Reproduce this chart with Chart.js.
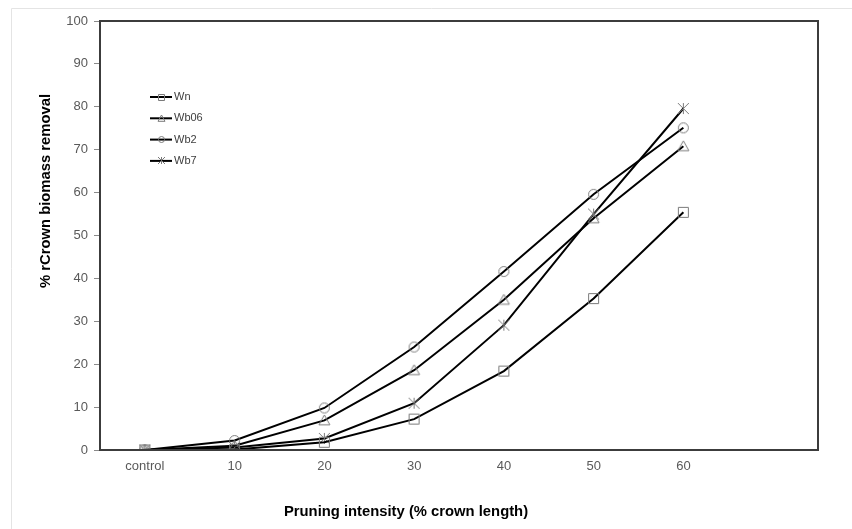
<!DOCTYPE html>
<html>
<head>
<meta charset="utf-8">
<script src="https://cdn.jsdelivr.net/npm/chart.js@4"></script>
<style>
html,body{margin:0;padding:0;background:#fff;}
canvas{display:block;}
</style>
</head>
<body>
<canvas id="c" width="852" height="529"></canvas>
<script>
// ---- data ----
const categories = ['control', '10', '20', '30', '40', '50', '60', ''];
const seriesNames = ['Wn', 'Wb06', 'Wb2', 'Wb7'];
const wn   = [0, 0.1, 1.8, 7.2, 18.4, 35.3, 55.4, null];
const wb06 = [0, 1.0, 6.9, 18.6, 35.0, 54.0, 70.8, null];
const wb2  = [0, 2.2, 9.8, 24.0, 41.6, 59.6, 75.1, null];
const wb7  = [0, 0.6, 2.7, 10.9, 29.1, 55.0, 79.6, null];
const yTicks = [0, 10, 20, 30, 40, 50, 60, 70, 80, 90, 100];
const markerKinds = ['square', 'triangle', 'circle', 'asterisk'];

const xTitle = 'Pruning intensity (% crown length)';
const yTitle = '% rCrown biomass removal';

// ---- marker images ----
function makeMarker(kind, size) {
  const pad = 2;
  const c = document.createElement('canvas');
  c.width = size + pad * 2; c.height = size + pad * 2;
  const g = c.getContext('2d');
  g.strokeStyle = '#7a7a7a';
  g.lineWidth = 1;
  const m = c.width / 2, r = size / 2;
  g.beginPath();
  if (kind === 'square') {
    g.rect(m - r + 0.5, m - r + 0.5, size - 1, size - 1);
  } else if (kind === 'triangle') {
    g.moveTo(m, m - r);
    g.lineTo(m + r, m + r * 0.8);
    g.lineTo(m - r, m + r * 0.8);
    g.closePath();
  } else if (kind === 'circle') {
    g.arc(m, m, r - 0.5, 0, Math.PI * 2);
  } else {
    g.moveTo(m - r, m - r); g.lineTo(m + r, m + r);
    g.moveTo(m + r, m - r); g.lineTo(m - r, m + r);
    g.moveTo(m, m - r); g.lineTo(m, m + r);
  }
  g.stroke();
  return c;
}
const bigMarkers = markerKinds.map(k => makeMarker(k, 11));
const smallMarkers = markerKinds.map(k => makeMarker(k, 7));

const seriesData = [wn, wb06, wb2, wb7];

const datasets = seriesNames.map((name, i) => ({
  label: name,
  data: seriesData[i],
  borderColor: '#000000',
  borderWidth: 2,
  backgroundColor: 'transparent',
  pointStyle: bigMarkers[i],
  pointRadius: 5,
  pointHoverRadius: 5,
  tension: 0,
  spanGaps: false,
}));

// ---- plugins ----
const decor = {
  id: 'decor',
  beforeDraw(chart) {
    const ctx = chart.ctx;
    ctx.save();
    ctx.fillStyle = '#ffffff';
    ctx.fillRect(0, 0, chart.width, chart.height);
    ctx.strokeStyle = '#e4e4e4';
    ctx.lineWidth = 1;
    ctx.beginPath();
    ctx.moveTo(11.5, chart.height); ctx.lineTo(11.5, 8.5); ctx.lineTo(chart.width, 8.5);
    ctx.stroke();
    ctx.restore();
  },
  afterDraw(chart) {
    const ctx = chart.ctx;
    const a = chart.chartArea;
    ctx.save();
    // frame
    ctx.strokeStyle = '#3c3c3c';
    ctx.lineWidth = 2;
    ctx.strokeRect(a.left, a.top, a.right - a.left, a.bottom - a.top);
    // axis titles
    ctx.fillStyle = '#000000';
    ctx.font = 'bold 14.8px "Liberation Sans", Arial, sans-serif';
    ctx.textAlign = 'center';
    ctx.textBaseline = 'middle';
    ctx.fillText(xTitle, 406, 512);
    ctx.translate(46, 191);
    ctx.rotate(-Math.PI / 2);
    ctx.fillText(yTitle, 0, 0);
    ctx.restore();
    // legend
    ctx.save();
    ctx.font = '11px "Liberation Sans", Arial, sans-serif';
    ctx.textAlign = 'left';
    ctx.textBaseline = 'middle';
    chart.data.datasets.forEach((ds, i) => {
      const y = 97 + i * 21.3;
      ctx.strokeStyle = '#000';
      ctx.lineWidth = 2;
      ctx.beginPath();
      ctx.moveTo(150, y); ctx.lineTo(172, y);
      ctx.stroke();
      const img = smallMarkers[i];
      ctx.drawImage(img, Math.round(161 - img.width / 2), Math.round(y - img.height / 2));
      ctx.fillStyle = '#404040';
      ctx.fillText(ds.label, 174, y);
    });
    ctx.restore();
  }
};

new Chart(document.getElementById('c'), {
  type: 'line',
  data: { labels: categories, datasets },
  plugins: [decor],
  options: {
    responsive: false,
    animation: false,
    events: [],
    layout: { padding: { top: 21, right: 34, left: 0, bottom: 0 } },
    plugins: { legend: { display: false }, tooltip: { enabled: false } },
    scales: {
      x: {
        type: 'category',
        offset: true,
        grid: { display: false, drawTicks: false },
        border: { display: false },
        ticks: {
          color: '#595959',
          font: { family: '"Liberation Sans", Arial, sans-serif', size: 13 },
          padding: 9,
          maxRotation: 0,
          autoSkip: false
        },
        afterFit(scale) { scale.height = 79; }
      },
      y: {
        min: 0, max: 100,
        afterBuildTicks(scale) { scale.ticks = yTicks.map(v => ({ value: v })); },
        grid: { display: true, drawOnChartArea: false, drawTicks: true, tickLength: 6, color: '#8a8a8a' },
        border: { display: false },
        ticks: {
          color: '#595959',
          font: { family: '"Liberation Sans", Arial, sans-serif', size: 13 },
          padding: 6
        },
        afterFit(scale) { scale.width = 100; }
      }
    }
  }
});
</script>
</body>
</html>
